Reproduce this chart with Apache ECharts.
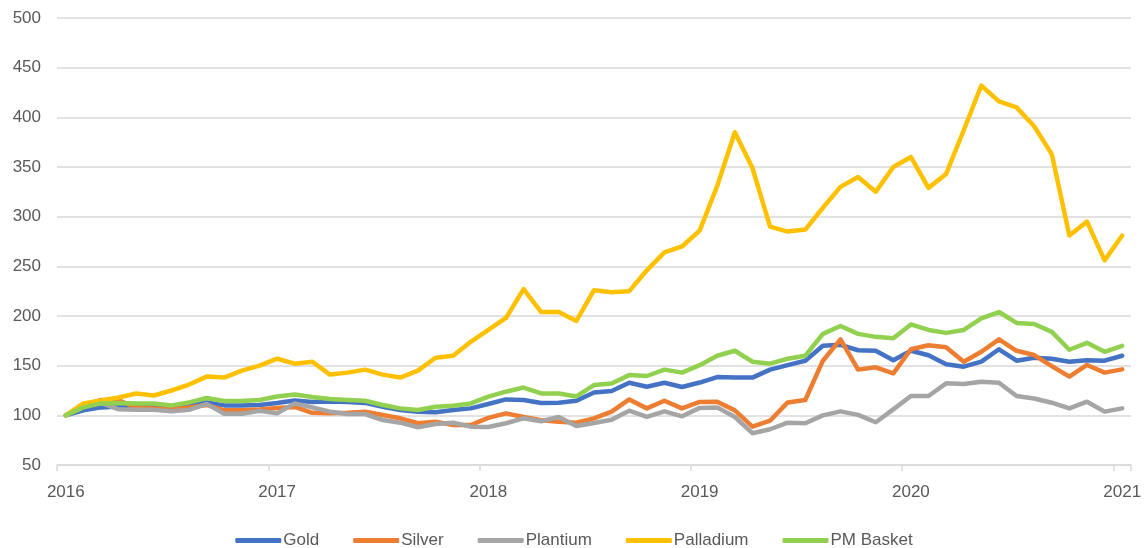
<!DOCTYPE html>
<html>
<head>
    <meta charset="utf-8">
    <script src="https://cdn.jsdelivr.net/npm/echarts@6/dist/echarts.min.js"></script>
    <style>
        body { margin: 0; background: #fff; }
    </style>
</head>
<body>
<div id="main" style="width: 1148px;height:548px;"></div>
<script type="text/javascript">
    // monthly index, Jan 2016 = 100
    var months = [];
    for (var y = 2016; y <= 2021; y++) {
        for (var m = 1; m <= 12; m++) {
            if (y === 2021 && m > 1) break;
            months.push(y + '-' + (m < 10 ? '0' + m : m));
        }
    }

    var gold = [100, 105, 108, 109, 109, 108.5, 107.5, 110, 113, 110, 110, 110.5,
        112.5, 115, 113.5, 114, 113.5, 112.5, 108.7, 105.4, 103.7, 103, 105.4, 107,
        111.4, 116, 115.4, 112.5, 112.7, 114.7, 123, 124.5, 132.8, 128.8, 132.8, 128.5,
        133, 138.5, 138, 138, 146, 150.5, 155, 170, 171, 165.5, 165, 155.5,
        165, 160.5, 151.5, 149, 154, 166.5, 155, 158, 157, 154, 155.5, 155,
        160];
    var silver = [100, 110, 115.5, 115, 108, 107, 106, 108, 110.5, 105, 105, 106,
        107.5, 108.5, 102.5, 102, 102.5, 103.7, 100.3, 97, 92, 93.6, 90.3, 90.3,
        97.5, 102, 98.3, 95, 93.6, 92.6, 97, 103.7, 116, 107, 114.7, 107,
        113.5, 113.7, 105, 88.6, 94.6, 113, 115.4, 155, 176.5, 146, 148.3, 142.3,
        166.5, 170.5, 168.5, 154, 164, 176.5, 165, 160.7, 149.6, 139, 150.7, 143,
        146.3];
    var plantium = [100, 109, 112.5, 106, 105.5, 105.5, 104, 105.5, 111.5, 101.5, 101.5, 104.5,
        102, 112, 108, 103.7, 101.3, 101.3, 95.3, 92.6, 88, 91.3, 92.6, 88.6,
        88.3, 92, 97, 94, 98.3, 89.3, 92.3, 95.5, 104.7, 98.5, 104, 99,
        107.5, 108, 98.3, 82, 86, 92.6, 92, 100, 104, 100.5, 93, 106,
        119.5, 119.5, 132.2, 131.5, 133.9, 132.8, 119.5, 117, 112.7, 107, 113.7, 103.7,
        107];
    var palladium = [100, 112, 115, 118, 122, 120, 125, 131, 139, 138, 145, 150,
        157, 152, 154, 141, 143, 146, 141, 138, 145, 158, 160, 174,
        186, 198, 227, 204, 204, 195, 226, 224, 225, 246, 264, 270,
        286, 331, 385, 349, 290, 285, 287, 309, 330, 340, 325, 350,
        360, 329, 343, 387, 432, 416, 410, 391, 363, 281, 295, 256,
        281];
    var pmBasket = [100, 108, 112, 112.5, 112, 112, 110, 113, 117.5, 114.5, 114.5, 115.5,
        119, 121, 118.5, 116.4, 115.4, 114.7, 110.4, 107, 105.4, 108.7, 109.7, 112,
        118.8, 123.8, 128, 122, 122, 119, 130.5, 132, 140.5, 139.6, 146, 143,
        150.5, 160, 165, 154, 152, 157, 160, 182, 190, 182, 179, 177.5,
        191.5, 186, 183, 186, 197.5, 204, 193, 192, 184, 166, 173, 164,
        170];

    var seriesNames = ['Gold', 'Silver', 'Plantium', 'Palladium', 'PM Basket'];
    var seriesData = [gold, silver, plantium, palladium, pmBasket];
    var colors = ['#4472C4', '#ED7D31', '#A5A5A5', '#FFC000', '#92D050'];

    var font = 'Liberation Sans';
    var textColor = '#595959';

    var myChart = echarts.init(document.getElementById('main'));

    var option = {
        animation: false,
        color: colors,
        grid: { left: 57, right: 17, top: 18, bottom: 83 },
        legend: {
            top: 527,
            left: 'center',
            icon: 'roundRect',
            itemWidth: 46,
            itemHeight: 5,
            itemGap: 34,
            textStyle: { color: textColor, fontSize: 17, fontFamily: font, padding: [0, 0, 0, -3] },
            data: seriesNames
        },
        xAxis: {
            type: 'category',
            data: months,
            boundaryGap: true,
            axisLine: { lineStyle: { color: '#d9d9d9', width: 1.5 } },
            axisTick: {
                show: true,
                length: 6,
                lineStyle: { color: '#d9d9d9', width: 1.5 },
                interval: function (i) { return i % 12 === 0; }
            },
            axisLabel: {
                interval: function (i) { return i % 12 === 0; },
                formatter: function (v) { return v.slice(0, 4); },
                color: textColor,
                fontSize: 17,
                fontFamily: font,
                margin: 19
            },
            splitLine: { show: false }
        },
        yAxis: {
            type: 'value',
            min: 50,
            max: 500,
            interval: 50,
            axisLine: { show: false },
            axisTick: { show: false },
            axisLabel: { color: textColor, fontSize: 17, fontFamily: font, margin: 16 },
            splitLine: { lineStyle: { color: '#d9d9d9', width: 1.5 } }
        },
        series: seriesNames.map(function (name, i) {
            return {
                name: name,
                type: 'line',
                data: seriesData[i],
                symbol: 'none',
                lineStyle: { width: 4.5, join: 'round', cap: 'round' }
            };
        })
    };
    myChart.setOption(option);
</script>
</body>
</html>
